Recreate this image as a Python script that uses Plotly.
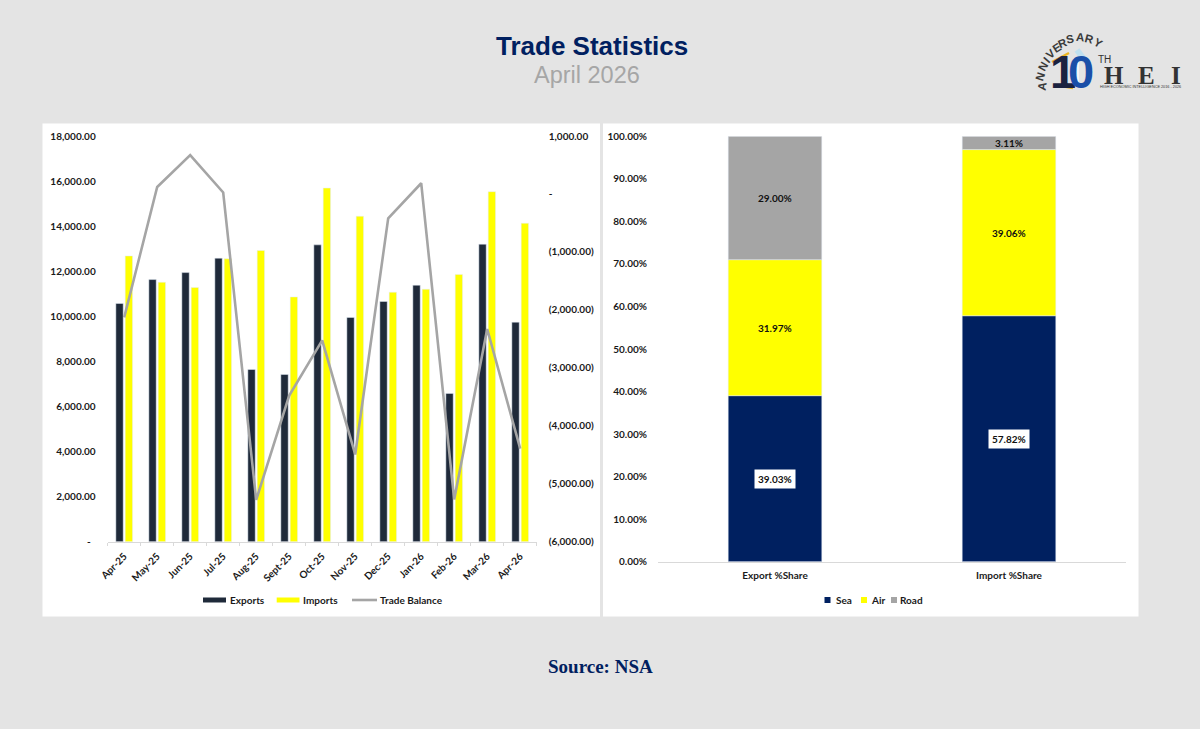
import plotly.graph_objects as go

W, H = 1200, 729

months = ['Apr-25', 'May-25', 'Jun-25', 'Jul-25', 'Aug-25', 'Sept-25', 'Oct-25',
          'Nov-25', 'Dec-25', 'Jan-26', 'Feb-26', 'Mar-26', 'Apr-26']
exports = [10570, 11630, 11940, 12580, 7640, 7420, 13170, 9950, 10660, 11380, 6580, 13200, 9740]
imports = [12680, 11510, 11280, 12550, 12920, 10860, 15690, 14440, 11070, 11200, 11860, 15530, 14130]
trade_balance = [-2130, 120, 670, 25, -5280, -3480, -2525, -4495, -420, 185, -5270, -2330, -4395]

left_ticks = [0, 2000, 4000, 6000, 8000, 10000, 12000, 14000, 16000, 18000]
left_labels = ['-\u00a0\u00a0', '2,000.00', '4,000.00', '6,000.00', '8,000.00', '10,000.00',
               '12,000.00', '14,000.00', '16,000.00', '18,000.00']
right_ticks = [1000, 0, -1000, -2000, -3000, -4000, -5000, -6000]
right_labels = ['1,000.00', '-', '(1,000.00)', '(2,000.00)', '(3,000.00)',
                '(4,000.00)', '(5,000.00)', '(6,000.00)']

share_cats = ['Export %Share', 'Import %Share']
sea = [39.03, 57.82]
air = [31.97, 39.06]
road = [29.00, 3.11]

NAVY = '#002060'
BAR_DARK = '#1F2A3A'
YELLOW = '#FFFF00'
GREY = '#A5A5A5'
BG = '#E4E4E4'
TICK = '#1A1A1A'
LABEL_FONT = 'Lato, Carlito, sans-serif'
LOGO_DARK = '#333333'


def px_x(x):
    return x / W


def px_y(y):
    return 1 - y / H


fig = go.Figure()

# ── Left chart: exports / imports + balance on second axis ───────
# barmode is layout-wide, so overlay + explicit offsets here and explicit bases on the right
fig.add_bar(x=months, y=exports, name='Exports', marker_color=BAR_DARK,
            width=0.223, offset=-0.253, xaxis='x', yaxis='y')
fig.add_bar(x=months, y=imports, name='Imports', marker_color=YELLOW,
            width=0.223, offset=0.03, xaxis='x', yaxis='y')
fig.add_scatter(x=months, y=trade_balance, name='Trade Balance', mode='lines',
                line=dict(color=GREY, width=2.6), xaxis='x', yaxis='y2')

# ── Right chart: 100% stacked share ──────────────────────────────
base = [0, 0]
for name, vals, col in [('Sea', sea, NAVY), ('Air', air, YELLOW), ('Road', road, GREY)]:
    fig.add_bar(x=share_cats, y=vals, base=list(base), name=name, marker_color=col, width=0.4,
                xaxis='x2', yaxis='y3')
    base = [b + v for b, v in zip(base, vals)]

tick_font = dict(family=LABEL_FONT, size=10, color=TICK, weight='bold')
axis_line = '#D9D9D9'

fig.update_layout(
    width=W, height=H,
    margin=dict(l=0, r=0, t=0, b=0),
    paper_bgcolor=BG,
    plot_bgcolor='rgba(0,0,0,0)',
    showlegend=False,
    barmode='overlay',
    xaxis=dict(domain=[px_x(107.7), px_x(536.7)], anchor='y', type='category', automargin=False,
               tickangle=-45, tickfont=tick_font, showgrid=False, showline=True,
               linecolor=axis_line, linewidth=1, ticks='outside', tickson='boundaries',
               ticklen=3, tickcolor=axis_line, ticklabelstandoff=4),
    yaxis=dict(domain=[px_y(541.7), px_y(136)], range=[0, 18000], tickmode='array', automargin=False,
               tickvals=left_ticks, ticktext=left_labels, tickfont=tick_font,
               showgrid=False, zeroline=False, showline=False, ticklabelstandoff=11),
    yaxis2=dict(domain=[px_y(541.7), px_y(136)], range=[-6000, 1000], overlaying='y', automargin=False,
                side='right', anchor='x', tickmode='array', tickvals=right_ticks,
                ticktext=right_labels, tickfont=tick_font, showgrid=False,
                zeroline=False, showline=False, ticklabelstandoff=11),
    xaxis2=dict(domain=[px_x(658), px_x(1126)], anchor='y3', type='category', automargin=False,
                tickfont=tick_font, showgrid=False, showline=True, linecolor=axis_line,
                linewidth=1, ticks='', ticklabelstandoff=4),
    yaxis3=dict(domain=[px_y(561.7), px_y(136.3)], anchor='x2', range=[0, 100], automargin=False,
                tickmode='array', tickvals=list(range(0, 101, 10)),
                ticktext=[f'{v}.00%' for v in range(0, 101, 10)], tickfont=tick_font,
                showgrid=False, zeroline=False, showline=False, ticklabelstandoff=10),
)

# white panels behind both charts
for x0, x1 in [(42.5, 600), (603, 1138.5)]:
    fig.add_shape(type='rect', xref='paper', yref='paper', layer='below',
                  x0=px_x(x0), x1=px_x(x1), y0=px_y(616.5), y1=px_y(123.5),
                  fillcolor='white', line_width=0)


def note(x, y, text, size, color, family=LABEL_FONT, bold=False, angle=0, anchor='center'):
    fig.add_annotation(xref='paper', yref='paper', x=px_x(x), y=px_y(y), text=text,
                       showarrow=False, xanchor=anchor, yanchor='middle', textangle=angle,
                       borderpad=0,
                       font=dict(family=family, size=size, color=color,
                                 weight='bold' if bold else 'normal'))


# data labels on the stacks
for i, cat in enumerate(share_cats):
    level = 0
    for vals, bg in [(sea, 'white'), (air, None), (road, None)]:
        fig.add_annotation(xref='x2', yref='y3', x=cat, y=level + vals[i] / 2,
                           text=f'{vals[i]:.2f}%', showarrow=False, bgcolor=bg, borderpad=3,
                           font=dict(family=LABEL_FONT, size=10, color='#111111', weight='bold'))
        level += vals[i]

# legends are drawn by hand, Excel's swatches are thin bars and tiny squares
for x0, x1, col in [(203, 226, BAR_DARK), (276.7, 299.5, YELLOW)]:
    fig.add_shape(type='rect', xref='paper', yref='paper', x0=px_x(x0), x1=px_x(x1),
                  y0=px_y(602.5), y1=px_y(597.5), fillcolor=col, line_width=0)
fig.add_shape(type='line', xref='paper', yref='paper', x0=px_x(352), x1=px_x(377),
              y0=px_y(600), y1=px_y(600), line=dict(color=GREY, width=2.6))
for x0, col in [(824.5, NAVY), (861, YELLOW), (891, GREY)]:
    fig.add_shape(type='rect', xref='paper', yref='paper', x0=px_x(x0), x1=px_x(x0 + 6),
                  y0=px_y(603), y1=px_y(597), fillcolor=col, line_width=0)
for x, label in [(228.5, 'Exports'), (302, 'Imports'), (379, 'Trade Balance'),
                 (834.5, 'Sea'), (869.5, 'Air'), (899, 'Road')]:
    note(x, 600, label, 10, TICK, bold=True, anchor='left')

# headings
note(591.5, 46.5, 'Trade Statistics', 26, NAVY, 'Liberation Sans', bold=True)
note(587, 75, 'April 2026', 23.5, '#A6A6A6', 'Liberation Sans')
note(600, 666.5, 'Source: NSA', 19, NAVY, 'Liberation Serif', bold=True)

# ── Logo ─────────────────────────────────────────────────────────
logo_letters = [('A', 1041.7, 86.7, -82), ('N', 1040, 76.7, -72), ('N', 1042.7, 66.7, -60),
                ('I', 1046.7, 60, -50), ('V', 1050.7, 54.5, -42), ('E', 1056.5, 48, -32),
                ('R', 1062.7, 42.5, -22), ('S', 1070, 38.5, -12), ('A', 1080, 37.3, 5),
                ('R', 1089, 39, 15), ('Y', 1098, 43.3, 30)]
for ch, x, y, rot in logo_letters:
    note(x, y, ch, 11.5, '#3A3A3A', 'Liberation Sans', bold=True, angle=rot)

note(1063, 71, '1', 47, '#1B2340', 'Liberation Sans', bold=True)
note(1081, 71, '0', 47, '#1A4FA8', 'Liberation Sans', bold=True)
for x0, y0, x1, y1, col, wd in [(1052, 62, 1069, 53, '#E8B422', 2.5), (1055, 85, 1073, 88, '#E8B422', 2.5),
                                (1077, 50, 1086, 62, '#BFE0F0', 6), (1076, 58, 1076, 86, '#F2F4F6', 6)]:
    fig.add_shape(type='line', xref='paper', yref='paper', x0=px_x(x0), x1=px_x(x1),
                  y0=px_y(y0), y1=px_y(y1), line=dict(color=col, width=wd))
note(1104, 59, 'TH', 10, LOGO_DARK, 'Liberation Sans')
note(1113.5, 75.5, 'H', 25, LOGO_DARK, 'Liberation Serif', bold=True)
note(1146, 75.5, 'E', 25, LOGO_DARK, 'Liberation Serif', bold=True)
note(1176, 75.5, 'I', 25, LOGO_DARK, 'Liberation Serif', bold=True)
note(1099, 86.5, 'HIGH ECONOMIC INTELLIGENCE 2016 - 2026', 3.8, LOGO_DARK, 'Liberation Sans', anchor='left')

# the page body has a default margin that would shift everything by 8px
fig.write_html("out.html", config=dict(displayModeBar=False),
               post_script="document.body.style.margin='0';")
